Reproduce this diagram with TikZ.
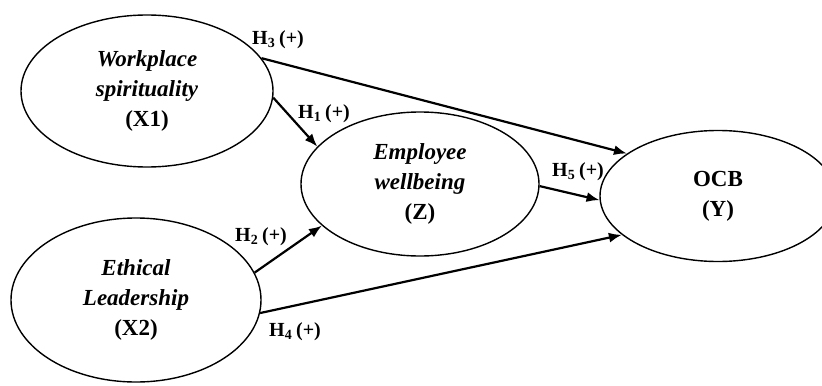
\documentclass[tikz,border=0pt]{standalone}
\usepackage{fontspec}
\setmainfont{Liberation Serif}
\usetikzlibrary{shapes.geometric,arrows.meta}
\begin{document}
\begin{tikzpicture}[x=0.5pt,y=-0.5pt,
  construct/.style={draw,ellipse,line width=0.7pt,inner sep=0pt,align=center,
    font=\fontsize{11.5}{15}\selectfont\bfseries},
  effect/.style={-{Latex[length=6.5pt,width=5pt]},line width=1.1pt},
  hyp/.style={inner sep=0pt,font=\fontsize{10}{11}\selectfont\bfseries}]
\useasboundingbox (0,0) rectangle (822,385);
% constructs
\node[construct,minimum width=126pt,minimum height=76pt] (x1) at (147,91)
  {{\itshape Workplace}\\{\itshape spirituality}\\(X1)};
\node[construct,minimum width=125pt,minimum height=82pt] (x2) at (136,300)
  {{\itshape Ethical}\\{\itshape Leadership}\\(X2)};
\node[construct,minimum width=119pt,minimum height=72pt] (z) at (420,184)
  {{\itshape Employee}\\{\itshape wellbeing}\\(Z)};
\node[construct,minimum width=118pt,minimum height=65.5pt] (y) at (718,196)
  {OCB\\(Y)};
% hypotheses
\draw[effect] (x1.16) -- (y.155);
\draw[effect] (x1.-3) -- (z.160);
\draw[effect] (x2.13) -- (z.203);
\draw[effect] (x2.-6) -- (y.202);
\draw[effect] (z.-1) -- (y.182);
\node[hyp] (h3) at (278,40) {H\textsubscript{3}\,(+)};
\node[hyp] (h1) at (324,114) {H\textsubscript{1}\,(+)};
\node[hyp] (h2) at (261,237) {H\textsubscript{2}\,(+)};
\node[hyp] (h4) at (295,332) {H\textsubscript{4}\,(+)};
\node[hyp] (h5) at (578,172) {H\textsubscript{5}\,(+)};
\end{tikzpicture}
\end{document}
